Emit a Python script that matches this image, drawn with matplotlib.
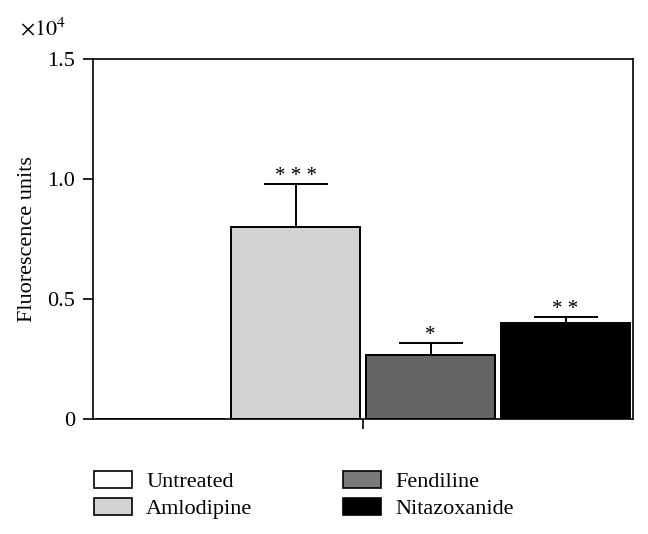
import numpy as np
import matplotlib.pyplot as plt
from matplotlib.patches import Patch

plt.rcParams['font.family'] = ['Liberation Serif', 'DejaVu Serif']
plt.rcParams['mathtext.fontset'] = 'stix'

# fluorescence units
groups = ['Untreated', 'Amlodipine', 'Fendiline', 'Nitazoxanide']
means = [0, 8000, 2670, 4000]
errs = [0, 1800, 500, 250]
stars = ['', '* * *', '*', '* *']
colors = ['white', '#d3d3d3', '#646464', '#000000']
legend_colors = ['white', '#d3d3d3', '#7a7a7a', '#000000']

fig = plt.figure(figsize=(6.48, 5.34), dpi=100)
ax = fig.add_axes([0.1435, 0.2154, 0.8335, 0.6741])

x = np.arange(len(groups))
ax.bar(x, means, width=0.95, color=colors, edgecolor='black', linewidth=1.4, zorder=2)
ax.errorbar(x[1:], means[1:], yerr=[np.zeros(3), errs[1:]], fmt='none',
            ecolor='black', elinewidth=1.4, capsize=23, capthick=1.4, zorder=1)

for xi, m, e, s in zip(x, means, errs, stars):
    if s:
        ax.text(xi, m + e - 80, s, ha='center', va='bottom', fontsize=15)

ax.set_xlim(-0.5, 3.5)
ax.set_ylim(0, 15000)
ax.set_yticks([0, 5000, 10000, 15000])
ax.set_yticklabels(['0', '0.5', '1.0', '1.5'])
ax.set_xticks([1.5])
ax.set_xticklabels([''])
ax.tick_params(direction='out', length=7, width=1.2, labelsize=16, pad=6)
for sp in ax.spines.values():
    sp.set_linewidth(1.2)
ax.set_ylabel('Fluorescence units', fontsize=16, labelpad=7)
fig.text(0.031, 0.933, r'$\times10^4$', fontsize=16)

handles = [Patch(facecolor=c, edgecolor='black', linewidth=1.2) for c in legend_colors]
fig.legend(handles, groups, ncol=2,
           loc='upper left', bbox_to_anchor=(0.128, 0.138), frameon=False,
           fontsize=16, handlelength=1.71, handleheight=0.77, handletextpad=0.63,
           columnspacing=4.1, labelspacing=0.25, borderpad=0)

fig.savefig('out.png', dpi=100)
